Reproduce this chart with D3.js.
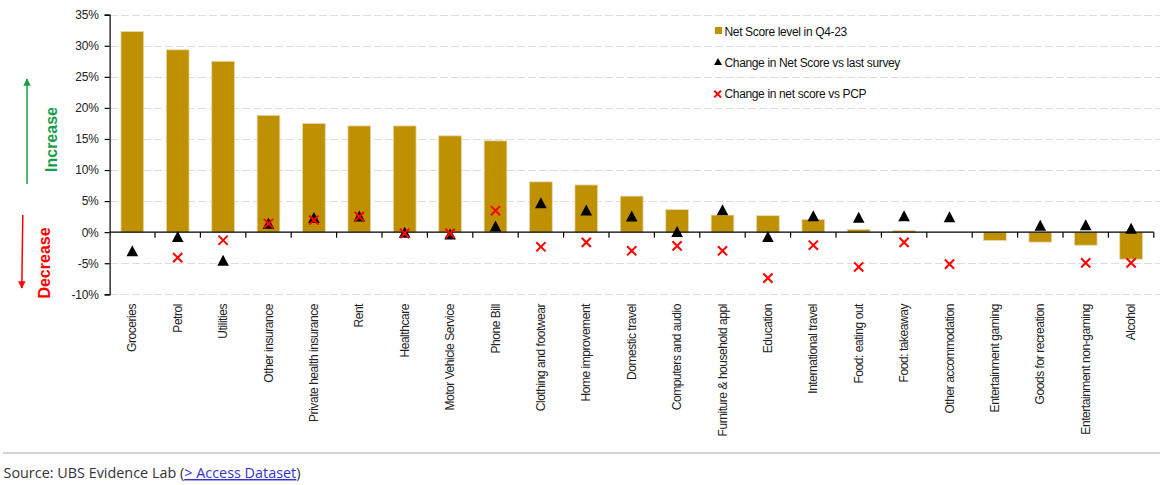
<!DOCTYPE html>
<html>
<head>
<meta charset="utf-8">
<script src="https://cdn.jsdelivr.net/npm/d3@7"></script>
<style>
  html, body { margin: 0; padding: 0; background: #fff; }
  svg { display: block; }
</style>
</head>
<body>
<svg id="chart" width="1164" height="485"></svg>
<script>
const categories = ["Groceries", "Petrol", "Utilities", "Other insurance", "Private health insurance", "Rent", "Healthcare", "Motor Vehicle Service", "Phone Bill", "Clothing and footwear", "Home improvement", "Domestic travel", "Computers and audio", "Furniture & household appl", "Education", "International travel", "Food: eating out", "Food: takeaway", "Other accommodation", "Entertainment gaming", "Goods for recreation", "Entertainment non-gaming", "Alcohol"];
const netScore = [32.3, 29.35, 27.5, 18.8, 17.5, 17.1, 17.1, 15.5, 14.7, 8.1, 7.6, 5.8, 3.65, 2.75, 2.65, 2.05, 0.45, 0.25, 0, -1.35, -1.6, -2.1, -4.35];
const vsLastSurvey = [-3.0, -0.7, -4.5, 1.45, 2.35, 2.6, 0.0, -0.3, 1.0, 4.75, 3.55, 2.6, 0.1, 3.6, -0.7, 2.65, 2.4, 2.65, 2.5, null, 1.1, 1.2, 0.65];
const vsPCP = [null, -4.1, -1.3, 1.4, 1.95, 2.5, -0.2, -0.2, 3.45, -2.35, -1.65, -3.0, -2.2, -3.0, -7.4, -2.1, -5.6, -1.65, -5.15, null, null, -4.95, -4.95];
const yTicks = [-10, -5, 0, 5, 10, 15, 20, 25, 30, 35];
const legendLabels = ["Net Score level in Q4-23", "Change in Net Score vs last survey", "Change in net score vs PCP"];

const GOLD = "#BF9000";
const svg = d3.select("#chart");

const x = d3.scaleBand().domain(categories).range([109.6, 1153.8]).paddingInner(0.5).paddingOuter(0.25);
const y = d3.scaleLinear().domain([-10, 35]).range([294.3, 14.7]);
const step = x.step();

// gridlines
svg.append("g").selectAll("line").data(yTicks.filter(d => d !== 0)).join("line")
  .attr("x1", 110).attr("x2", 1160)
  .attr("y1", d => Math.round(y(d)) + 0.5).attr("y2", d => Math.round(y(d)) + 0.5)
  .attr("stroke", "#dedede").attr("stroke-width", 1).attr("stroke-dasharray", "8,3");

// legend
const lg = svg.append("g").attr("font-family", "Liberation Sans, Arial, sans-serif").attr("font-size", 12).attr("fill", "#111").attr("letter-spacing", "-0.35px");
lg.append("rect").attr("x", 715).attr("y", 27).attr("width", 7).attr("height", 7).attr("fill", GOLD);
lg.append("path").attr("d", "M718,58 L722,65 L714,65 Z").attr("fill", "#000");
lg.append("path").attr("d", "M714.3,90.7 L721,97.4 M721,90.7 L714.3,97.4").attr("stroke", "#ff0000").attr("stroke-width", 2);
lg.selectAll("text").data(legendLabels).join("text")
  .attr("x", 724.5).attr("y", (d, i) => [35.5, 66.5, 98.3][i]).text(d => d);

// bars
svg.append("g").selectAll("rect").data(categories).join("rect")
  .attr("x", d => x(d)).attr("width", x.bandwidth())
  .attr("y", (d, i) => y(Math.max(0, netScore[i])))
  .attr("height", (d, i) => Math.abs(y(netScore[i]) - y(0)))
  .attr("fill", GOLD).attr("stroke", "#e6d8b0").attr("stroke-width", 0.8);

// zero line
svg.append("line").attr("x1", 109.6).attr("x2", 1153.8).attr("y1", y(0)).attr("y2", y(0))
  .attr("stroke", "#000").attr("stroke-width", 1.2);

// x ticks at band boundaries
svg.append("g").selectAll("line").data(categories).join("line")
  .attr("x1", d => x(d) + x.bandwidth() + step * 0.25).attr("x2", d => x(d) + x.bandwidth() + step * 0.25)
  .attr("y1", y(0)).attr("y2", y(0) + 5.5).attr("stroke", "#000").attr("stroke-width", 1.2);

// y axis
const yAxis = d3.axisLeft(y).tickValues(yTicks).tickFormat(d => d + "%").tickSize(5).tickPadding(6);
const ya = svg.append("g").attr("transform", "translate(109.6,0)").call(yAxis);
ya.select(".domain").attr("stroke", "#000").attr("stroke-width", 1.2);
ya.selectAll(".tick line").attr("stroke", "#000").attr("stroke-width", 1.2);
ya.selectAll(".tick text").attr("font-family", "Liberation Sans, Arial, sans-serif").attr("font-size", 12).attr("fill", "#222").attr("letter-spacing", "-0.2px");

// triangles
const cx = d => x(d) + x.bandwidth() / 2;
svg.append("g").selectAll("path").data(categories.filter((d, i) => vsLastSurvey[i] !== null)).join("path")
  .attr("d", d => {
    const v = vsLastSurvey[categories.indexOf(d)];
    const px = cx(d), py = y(v);
    const p = d3.path();
    p.moveTo(px, py - 5.5); p.lineTo(px + 5.8, py + 5.5); p.lineTo(px - 5.8, py + 5.5); p.closePath();
    return p.toString();
  })
  .attr("fill", "#000");

// crosses
svg.append("g").selectAll("path").data(categories.filter((d, i) => vsPCP[i] !== null)).join("path")
  .attr("d", d => {
    const v = vsPCP[categories.indexOf(d)];
    const px = cx(d), py = y(v), s = 4.6;
    const p = d3.path();
    p.moveTo(px - s, py - s); p.lineTo(px + s, py + s);
    p.moveTo(px + s, py - s); p.lineTo(px - s, py + s);
    return p.toString();
  })
  .attr("stroke", "#ff0000").attr("stroke-width", 2).attr("fill", "none");

// x labels
svg.append("g").selectAll("text").data(categories).join("text")
  .attr("transform", d => `translate(${cx(d) + 4},304) rotate(-90)`)
  .attr("text-anchor", "end")
  .attr("font-family", "Liberation Sans, Arial, sans-serif").attr("font-size", 12)
  .attr("letter-spacing", "-0.45px").attr("fill", "#222")
  .text(d => d);

// increase / decrease annotations
const defs = svg.append("defs");
defs.append("marker").attr("id", "ahG").attr("viewBox", "0 0 10 10").attr("refX", 9).attr("refY", 5)
  .attr("markerWidth", 5).attr("markerHeight", 5).attr("orient", "auto")
  .append("path").attr("d", "M0,0 L10,5 L0,10 Z").attr("fill", "#1a9e4a");
defs.append("marker").attr("id", "ahR").attr("viewBox", "0 0 10 10").attr("refX", 9).attr("refY", 5)
  .attr("markerWidth", 5).attr("markerHeight", 5).attr("orient", "auto")
  .append("path").attr("d", "M0,0 L10,5 L0,10 Z").attr("fill", "#ff0000");
svg.append("line").attr("x1", 27).attr("y1", 184).attr("x2", 27).attr("y2", 79)
  .attr("stroke", "#1a9e4a").attr("stroke-width", 1.5).attr("marker-end", "url(#ahG)");
svg.append("line").attr("x1", 22.8).attr("y1", 215).attr("x2", 21.8).attr("y2", 288)
  .attr("stroke", "#ff0000").attr("stroke-width", 1.5).attr("marker-end", "url(#ahR)");
svg.append("text").attr("transform", "translate(57.3,139.5) rotate(-90)").attr("text-anchor", "middle")
  .attr("font-family", "Liberation Sans, Arial, sans-serif").attr("font-size", 16).attr("font-weight", "bold")
  .attr("fill", "#1a9e4a").text("Increase");
svg.append("text").attr("transform", "translate(50,263) rotate(-90)").attr("text-anchor", "middle")
  .attr("font-family", "Liberation Sans, Arial, sans-serif").attr("font-size", 16).attr("font-weight", "bold")
  .attr("fill", "#ff0000").text("Decrease");

// footer
svg.append("line").attr("x1", 3).attr("x2", 1160).attr("y1", 453).attr("y2", 453)
  .attr("stroke", "#d3d3d3").attr("stroke-width", 2);
const src = svg.append("text").attr("x", 3.5).attr("y", 478).attr("font-family", "Open Sans, sans-serif").attr("font-size", 14.4).attr("fill", "#333");
src.append("tspan").text("Source: UBS Evidence Lab (");
src.append("tspan").attr("fill", "#3333cc").attr("text-decoration", "underline").text("> Access Dataset");
src.append("tspan").text(")");
</script>
</body>
</html>
